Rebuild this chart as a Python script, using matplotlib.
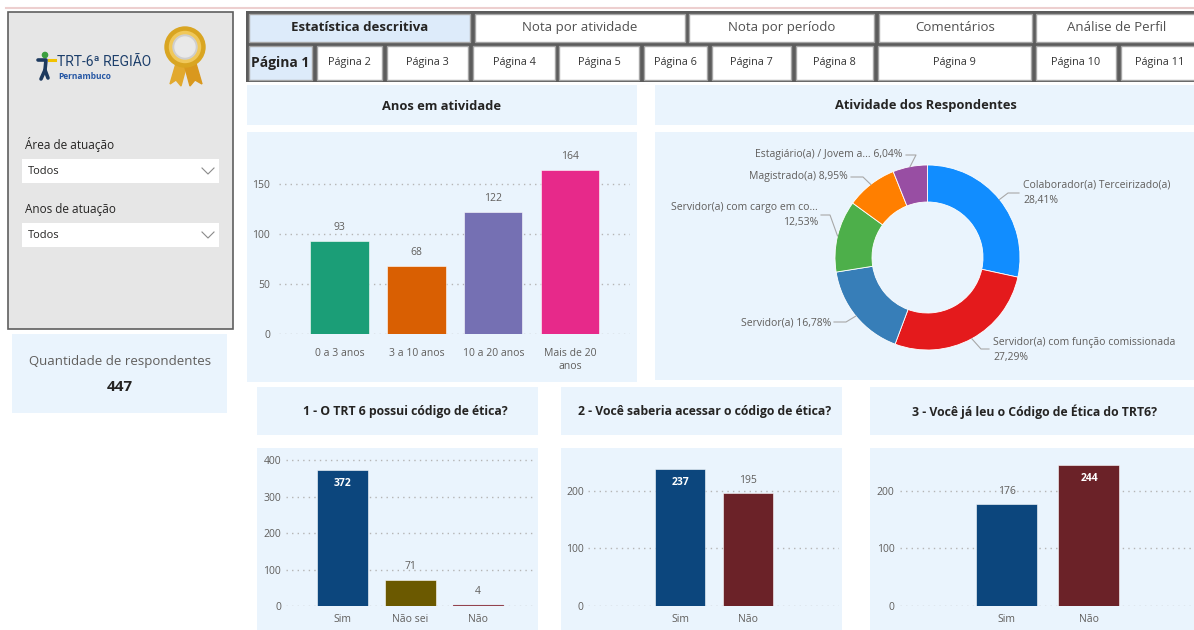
import numpy as np
import matplotlib
matplotlib.use("Agg")
import matplotlib.pyplot as plt
from matplotlib.patches import Rectangle, Circle, Polygon

plt.rcParams['font.family'] = ['Open Sans', 'DejaVu Sans']

W, H = 1194, 630

# ---- dados ----
anos_cat = ["0 a 3 anos", "3 a 10 anos", "10 a 20 anos", "Mais de 20\nanos"]
anos_val = [93, 68, 122, 164]
anos_cores = ["#1B9E77", "#D95F02", "#7570B3", "#E7298A"]

ativ_cat = ["Colaborador(a) Terceirizado(a)", "Servidor(a) com função comissionada",
            "Servidor(a)", "Servidor(a) com cargo em co...", "Magistrado(a)",
            "Estagiário(a) / Jovem a..."]
ativ_pct = [28.41, 27.29, 16.78, 12.53, 8.95, 6.04]
ativ_cores = ["#118DFF", "#E41A1C", "#377EB8", "#4DAF4A", "#FF7F00", "#984EA3"]

q1_cat = ["Sim", "Não sei", "Não"]
q1_val = [372, 71, 4]
q2_cat = ["Sim", "Não"]
q2_val = [237, 195]
q3_cat = ["Sim", "Não"]
q3_val = [176, 244]
azul, vinho, oliva, rosa = "#0C467D", "#6B2228", "#6B5900", "#93434F"

total_resp = 447

tabs1 = ["Estatística descritiva", "Nota por atividade", "Nota por período",
         "Comentários", "Análise de Perfil"]
tabs2 = ["Página 1", "Página 2", "Página 3", "Página 4", "Página 5", "Página 6",
         "Página 7", "Página 8", "Página 9", "Página 10", "Página 11"]

# ---- layout (pixels) ----
tabs1_x = [(249, 470), (475, 685), (689, 874), (879, 1032), (1036, 1198)]
tabs2_x = [(249, 312), (317, 382), (387, 468), (473, 555), (559, 639), (644, 707),
           (712, 791), (796, 873), (878, 1031), (1036, 1116), (1121, 1198)]

TXT = "#605E5C"
TIT = "#252423"
PANEL = "#EAF4FD"

fig = plt.figure(figsize=(W / 100, H / 100), dpi=100)
fig.patch.set_facecolor("white")
bg = fig.add_axes([0, 0, 1, 1])
bg.set_xlim(0, W)
bg.set_ylim(H, 0)
bg.axis("off")


def box(x0, y0, x1, y1, fc, ec="none", lw=0, z=1):
    bg.add_patch(Rectangle((x0, y0), x1 - x0, y1 - y0, facecolor=fc,
                           edgecolor=ec, linewidth=lw, zorder=z))


def ax_px(x0, y0, x1, y1):
    return fig.add_axes([x0 / W, 1 - y1 / H, (x1 - x0) / W, (y1 - y0) / H])


# linha superior
bg.plot([6, W], [8, 8], color="#EDCFCF", lw=1.5)

# painel esquerdo
box(8, 12, 233, 329, "#E6E6E6", ec="#5F5F5F", lw=1.2)
# logo
bg.add_patch(Circle((45, 55), 2.6, color="#3B9F3F", zorder=3))
bg.plot([49, 55], [60, 60], color="#F2C200", lw=2.2, zorder=3)
bg.plot([38, 46, 45, 41], [60, 60, 70, 79], color="#1D3A5F", lw=2.6, zorder=3,
        solid_capstyle="round")
bg.plot([45, 48], [70, 78], color="#1D3A5F", lw=2.6, zorder=3, solid_capstyle="round")
bg.text(57, 62, "TRT-6ª REGIÃO", fontsize=10, color="#1D3F6B", va="center",
        ha="left", family=["Roboto", "DejaVu Sans"])
bg.text(58, 76.5, "Pernambuco", fontsize=6, color="#2456A4", va="center",
        ha="left", fontweight="bold")
# medalha
bg.add_patch(Polygon([(177, 60), (170, 84), (176, 80), (181, 86), (187, 64)],
                     color="#E2A92E", zorder=2))
bg.add_patch(Polygon([(184, 64), (190, 86), (195, 80), (202, 84), (195, 60)],
                     color="#D9981E", zorder=2))
bg.add_patch(Circle((185, 47), 20, color="#D9A521", zorder=3))
bg.add_patch(Circle((185, 47), 15.5, color="#F0C85A", zorder=3))
bg.add_patch(Circle((185, 47), 12, color="#CFCFCF", zorder=3))
bg.add_patch(Circle((185, 47), 10, color="#E9E9E9", zorder=3))

# filtros
for lab, y in [("Área de atuação", 145), ("Anos de atuação", 209)]:
    bg.text(25, y, lab, fontsize=8.5, color=TIT, va="center", ha="left")
    box(22, y + 14, 219, y + 38, "white", z=2)
    bg.text(28, y + 27, "Todos", fontsize=8, color=TIT, va="center", ha="left")
    bg.plot([202, 208, 214], [y + 23, y + 29, y + 23], color="#8A8A8A", lw=0.8)

# cartão
box(12, 334, 227, 413, PANEL)
bg.text(120, 361, "Quantidade de respondentes", fontsize=9.5, color=TXT,
        ha="center", va="center")
bg.text(120, 387, str(total_resp), fontsize=11, color=TIT, ha="center",
        va="center", fontweight="bold")

# abas
box(246, 11, 1198, 82, "#5C5C5C", z=1)
for i, (lab, (x0, x1)) in enumerate(zip(tabs1, tabs1_x)):
    box(x0, 13.5, x1, 41.5, "#DDEBFA" if i == 0 else "white", ec="#A5A5A5", lw=1, z=2)
    bg.text((x0 + x1) / 2, 27.5, lab, fontsize=9.5, ha="center",
            va="center", color=TIT if i == 0 else "#505050",
            fontweight="bold" if i == 0 else "normal", zorder=3)
for i, (lab, (x0, x1)) in enumerate(zip(tabs2, tabs2_x)):
    box(x0, 46, x1, 79.5, "#DDEBFA" if i == 0 else "white", ec="#A5A5A5", lw=1, z=2)
    bg.text((x0 + x1) / 2, 62.5, lab, fontsize=10 if i == 0 else 7.8, ha="center",
            va="center", color=TIT if i == 0 else "#333333",
            fontweight="bold" if i == 0 else "normal", zorder=3)

# caixas dos gráficos
panels = [
    ((247, 85, 637, 125), (247, 132, 637, 382), "Anos em atividade", 442, 9.3),
    ((655, 85, 1194, 125), (655, 132, 1194, 380), "Atividade dos Respondentes", 926, 9.3),
    ((257, 387, 538, 435), (257, 448, 538, 630), "1 - O TRT 6 possui código de ética?", 405, 8.8),
    ((561, 387, 842, 435), (561, 448, 842, 630), "2 - Você saberia acessar o código de ética?", 705, 8.8),
    ((870, 387, 1194, 435), (870, 448, 1194, 630), "3 - Você já leu o Código de Ética do TRT6?", 1034, 8.8),
]
for tb, pb, title, cx, fs in panels:
    box(*tb, PANEL)
    box(*pb, PANEL)
    bg.text(cx, (tb[1] + tb[3]) / 2 + 1, title, fontsize=fs, fontweight="bold",
            color=TIT, ha="center", va="center")


def bar_chart(rect, cats, vals, colors, ylim, ticks, xlim, width, ypad, xpad,
              inside=(), fs=7.5):
    ax = ax_px(*rect)
    ax.patch.set_alpha(0)
    x = np.arange(len(cats))
    bars = ax.bar(x, vals, width=width, color=colors, zorder=3, edgecolor="#FFFFFF",
                  linewidth=0.4)
    # barras muito baixas: sem contorno claro para continuarem visíveis
    for b, v, c in zip(bars, vals, colors):
        if v < 0.03 * ylim[1]:
            b.set_edgecolor(c)
            b.set_linewidth(0.8)
    ax.set_xlim(*xlim)
    ax.set_ylim(*ylim)
    ax.set_yticks(ticks)
    ax.set_xticks(x)
    ax.set_xticklabels(cats, fontsize=fs, color=TXT, linespacing=1.3)
    ax.tick_params(axis="y", length=0, pad=ypad, labelsize=fs, labelcolor=TXT)
    ax.tick_params(axis="x", length=0, pad=xpad)
    ax.yaxis.grid(True, linestyle=(0, (1, 3)), color="#B5B5B5", lw=1, zorder=0)
    ax.set_axisbelow(True)
    for s in ax.spines.values():
        s.set_visible(False)
    for i, v in enumerate(vals):
        if i in inside:
            ax.annotate(str(v), (i, v), xytext=(0, -9.5), textcoords="offset points",
                        ha="center", va="center", fontsize=fs, color="white",
                        fontweight="bold")
        else:
            ax.annotate(str(v), (i, v), xytext=(0, 9.5), textcoords="offset points",
                        ha="center", va="center", fontsize=fs, color=TXT)
    return ax


bar_chart((279, 150, 630, 334), anos_cat, anos_val, anos_cores, (0, 184),
          [0, 50, 100, 150], (-0.79, 3.78), 0.76, 6.5, 10)
bar_chart((286, 455, 535, 606), q1_cat, q1_val, [azul, oliva, rosa], (0, 413.7),
          [0, 100, 200, 300, 400], (-0.836, 2.842), 0.75, 3.6, 5.5, inside=(0,))
bar_chart((588, 455, 839, 606), q2_cat, q2_val, [azul, vinho], (0, 261.7),
          [0, 100, 200], (-1.376, 2.359), 0.744, 3, 5.5, inside=(0,))
bar_chart((900, 455, 1194, 606), q3_cat, q3_val, [azul, vinho], (0, 261.7),
          [0, 100, 200], (-1.296, 2.276), 0.741, 4, 5.5, inside=(1,))

# rosca
CX, CY, R = 927.5, 257.5, 92.5
pr = (655, 132, 1194, 380)
axp = ax_px(*pr)
axp.patch.set_alpha(0)
wedges, _ = axp.pie(ativ_pct, colors=ativ_cores, startangle=90, counterclock=False,
                    radius=1, wedgeprops=dict(width=0.4, edgecolor="white", linewidth=0.6))
axp.set_aspect("auto")
axp.set_xlim((pr[0] - CX) / R, (pr[2] - CX) / R)
axp.set_ylim((CY - pr[3]) / R, (CY - pr[1]) / R)
axp.axis("off")


def pd(px, py):
    return (px - CX) / R, (CY - py) / R


# (elbow, end, text anchor, ha)
lab_pos = [
    ((1008, 193), (1019, 193), (1023, 193), "left"),
    ((981, 349), (989, 349), (993, 350), "left"),
    ((846, 322), (834, 322), (831, 323), "right"),
    ((830, 215), (821, 215), (818, 215), "right"),
    ((863, 177), (851, 177), (848, 177), "right"),
    ((916, 155), (906, 155), (902, 155), "right"),
]
cum = 0
for i, (cat, p) in enumerate(zip(ativ_cat, ativ_pct)):
    mid = 90 - 360 * (cum + p / 2) / 100
    cum += p
    sx, sy = np.cos(np.radians(mid)), np.sin(np.radians(mid))
    el, en, ta, ha = lab_pos[i]
    ex, ey = pd(*el)
    nx, ny = pd(*en)
    axp.plot([sx, ex, nx], [sy, ey, ny], color="#A8A8A8", lw=0.8)
    pct = f"{p:.2f}".replace(".", ",") + "%"
    if i in (0, 1, 3):
        txt = f"{cat}\n{pct}"
    else:
        txt = f"{cat} {pct}"
    tx, ty = pd(*ta)
    axp.text(tx, ty, txt, ha=ha, va="center", fontsize=7.5, color=TXT,
             linespacing=1.5, multialignment=ha)

fig.savefig("out.png", dpi=100, facecolor="white")
